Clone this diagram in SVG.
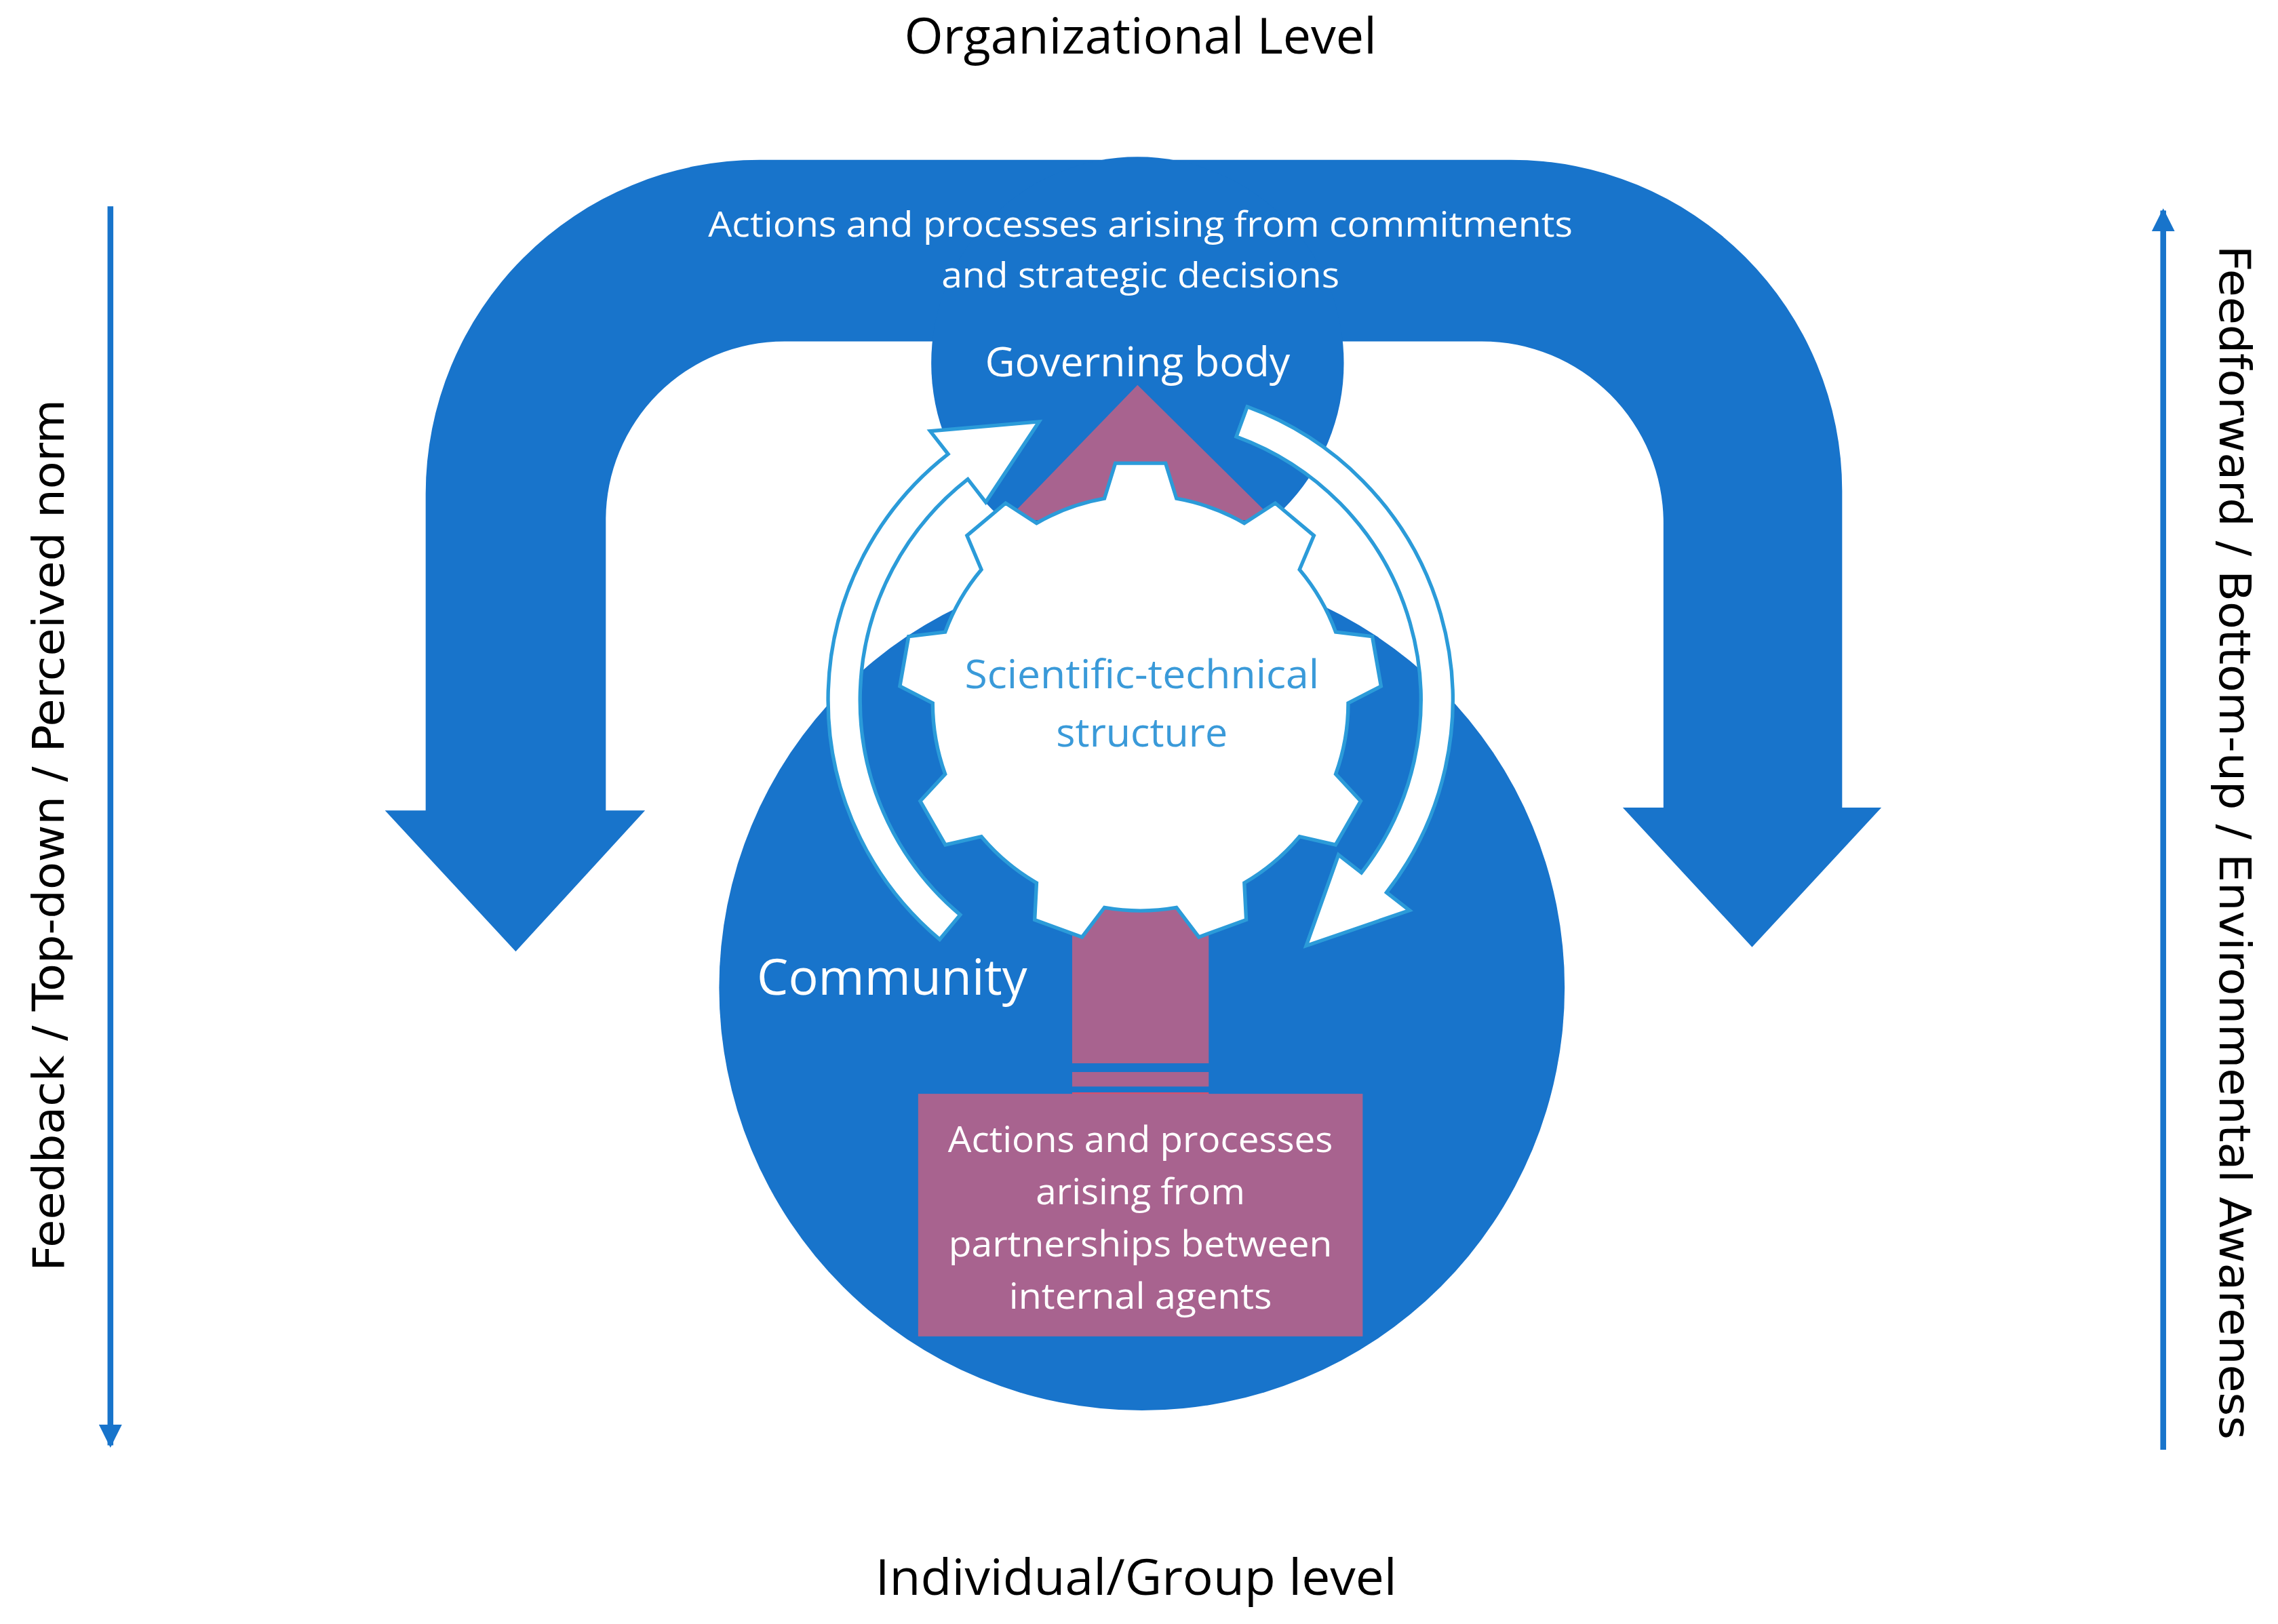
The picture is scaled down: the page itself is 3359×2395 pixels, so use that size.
<svg xmlns="http://www.w3.org/2000/svg" width="3359" height="2395" viewBox="0 0 3359 2395">
<style>
.b{fill:#1874cb}
.w{fill:#fff;font-family:"Open Sans","Liberation Sans",sans-serif}
.k{fill:#000;font-family:"Open Sans","Liberation Sans",sans-serif}
.v{fill:#000;font-family:"DejaVu Sans",sans-serif;font-size:30px}
.p{fill:#a8638f}
.ca{fill:#fff;stroke:#2b9bd9;stroke-width:2.5}
</style>
<defs>
<marker id="ah" viewBox="0 0 10 10" refX="9" refY="5" markerWidth="4" markerHeight="4" orient="auto"><path d="M0,0L10,5L0,10Z" fill="#1874cb"/></marker>
</defs>
<rect width="3359" height="2395" fill="#fff"/>
<g transform="scale(2.1422)">
<g id="connectors">
<line x1="76" y1="142" x2="76" y2="995" stroke="#1874cb" stroke-width="4" marker-end="url(#ah)"/>
<line x1="1489" y1="998" x2="1489" y2="145" stroke="#1874cb" stroke-width="4" marker-end="url(#ah)"/>
</g>
<g id="arch"><path class="b" d="M265,558 L293,558 L293,340 A230,230 0 0 1 523,110 L1040,110 A228,228 0 0 1 1268,338 L1268,556 L1295,556 L1206,652 L1117,556 L1145,556 L1145,360 A125,125 0 0 0 1020,235 L540,235 A123,123 0 0 0 417,358 L417,558 L444,558 L355,655 Z"/></g>
<g id="governing"><circle class="b" cx="783" cy="250" r="142"/></g>
<g id="community"><circle class="b" cx="786" cy="680" r="291"/></g>
<path class="p" d="M783,265 L877,358 L693,358 Z"/>
<rect class="p" x="738" y="600" width="94" height="132"/>
<rect class="p" x="738" y="738" width="94" height="10"/>
<rect x="738" y="752" width="94" height="6" fill="#d4506e"/>
<g id="gear"><path fill="#fff" stroke="#2b9bd9" stroke-width="2.5" d="M760.2,343.2 L767.7,318.9 L802.3,318.9 L809.8,343.2 A143,143 0 0 1 856.5,360.2 L877.8,346.4 L904.4,368.7 L894.5,392.1 A143,143 0 0 1 919.4,435.1 L944.6,438.2 L950.6,472.4 L928,484 A143,143 0 0 1 919.4,532.9 L936.6,551.5 L919.3,581.6 L894.5,575.9 A143,143 0 0 1 856.5,607.8 L857.8,633.2 L825.2,645.1 L809.8,624.8 A143,143 0 0 1 760.2,624.8 L744.8,645.1 L712.2,633.2 L713.5,607.8 A143,143 0 0 1 675.5,575.9 L650.7,581.6 L633.4,551.5 L650.6,532.9 A143,143 0 0 1 642,484 L619.4,472.4 L625.4,438.2 L650.6,435.1 A143,143 0 0 1 675.5,392.1 L665.6,368.7 L692.2,346.4 L713.5,360.2 A143,143 0 0 1 760.2,343.2 Z"/>
<text x="786" y="474" text-anchor="middle" font-family="Open Sans,Liberation Sans,sans-serif" font-size="27" fill="#3a9ad9" textLength="244" lengthAdjust="spacingAndGlyphs">Scientific-technical</text>
<text x="786" y="514" text-anchor="middle" font-family="Open Sans,Liberation Sans,sans-serif" font-size="27" fill="#3a9ad9" textLength="118" lengthAdjust="spacingAndGlyphs">structure</text>
</g>
<g id="cycle-left"><path class="ca" d="M646.8,646.7 A215,215 0 0 1 652.6,312.6 L640.3,296.8 L715.2,290.3 L678.5,345.7 L666.2,329.9 A193,193 0 0 0 660.9,629.8 Z"/></g>
<g id="cycle-right"><path class="ca" d="M858.5,280 A215,215 0 0 1 954.4,614.4 L970.2,626.7 L899.1,651.1 L921.3,588.5 L937.1,600.8 A193,193 0 0 0 851,300.6 Z"/></g>
<g id="box"><rect class="p" x="632" y="753" width="306" height="167"/>
<text class="w" font-size="25" text-anchor="middle" x="785" y="793" textLength="265" lengthAdjust="spacingAndGlyphs">Actions and processes</text>
<text class="w" font-size="25" text-anchor="middle" x="785" y="829" textLength="144" lengthAdjust="spacingAndGlyphs">arising from</text>
<text class="w" font-size="25" text-anchor="middle" x="785" y="865" textLength="264" lengthAdjust="spacingAndGlyphs">partnerships between</text>
<text class="w" font-size="25" text-anchor="middle" x="785" y="901" textLength="181" lengthAdjust="spacingAndGlyphs">internal agents</text>
</g>
<text class="w" font-size="24" text-anchor="middle" x="785" y="163" textLength="595" lengthAdjust="spacingAndGlyphs">Actions and processes arising from commitments</text>
<text class="w" font-size="24" text-anchor="middle" x="785" y="198" textLength="274" lengthAdjust="spacingAndGlyphs">and strategic decisions</text>
<text class="w" font-size="28" text-anchor="middle" x="783" y="259" textLength="210" lengthAdjust="spacingAndGlyphs">Governing body</text>
<text class="w" font-size="34" text-anchor="middle" x="614" y="685" textLength="186" lengthAdjust="spacingAndGlyphs">Community</text>
<text class="k" font-size="34" text-anchor="middle" x="785" y="37" textLength="325" lengthAdjust="spacingAndGlyphs">Organizational Level</text>
<text class="k" font-size="34" text-anchor="middle" x="782" y="1098" textLength="359" lengthAdjust="spacingAndGlyphs">Individual/Group level</text>
<text class="v" text-anchor="middle" transform="translate(44,575) rotate(-90)" textLength="600" lengthAdjust="spacingAndGlyphs">Feedback / Top-down / Perceived norm</text>
<text class="v" text-anchor="middle" transform="translate(1528,580) rotate(90)" textLength="822" lengthAdjust="spacingAndGlyphs">Feedforward / Bottom-up / Environmental Awareness</text>
</g>
</svg>
